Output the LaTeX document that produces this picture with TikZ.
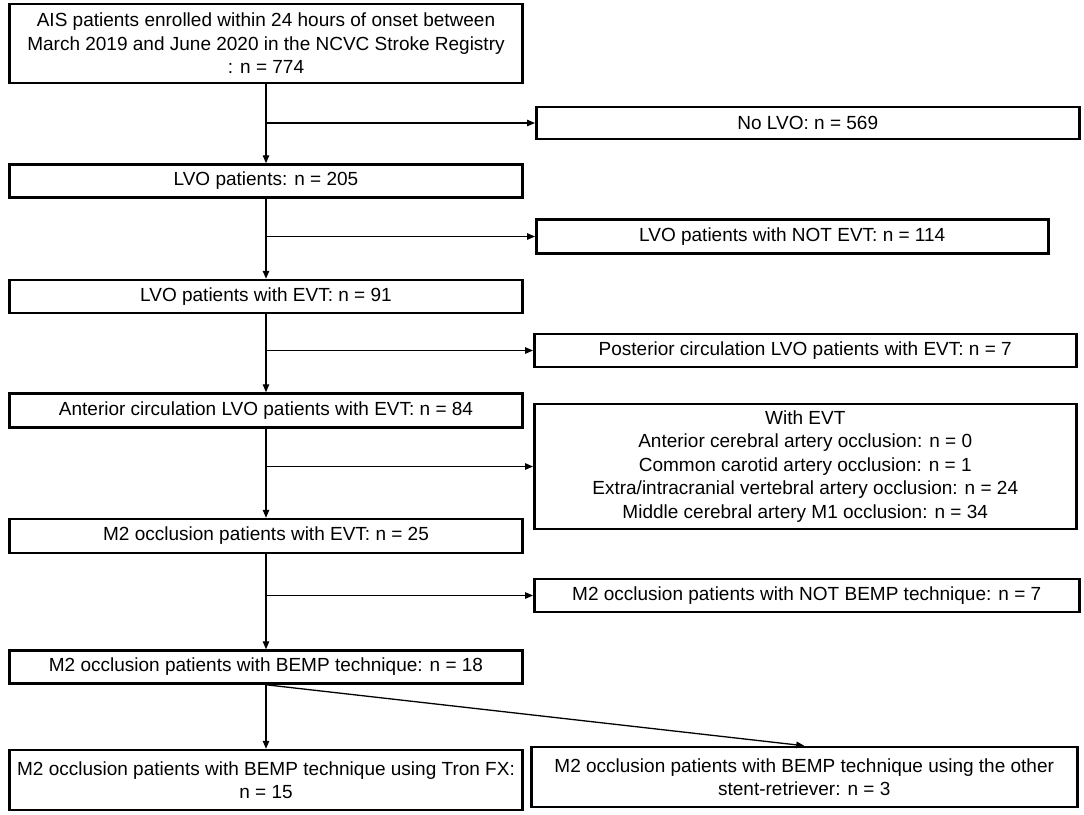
\documentclass[tikz,border=0pt]{standalone}
\usepackage{fontspec}
\setmainfont{Liberation Sans}
\usetikzlibrary{positioning, arrows.meta}

\tikzset{
  box/.style={draw, line width=2.5pt, align=center, inner sep=0pt,
    minimum height=33pt, font=\fontsize{19pt}{23.5pt}\selectfont},
  main/.style={box, minimum width=513pt},
  side/.style={box, anchor=west},
  flow/.style={->, line width=1.3pt},
}

\begin{document}
\begin{tikzpicture}[x=1pt, y=-1pt, >={Triangle[length=8pt,width=6.5pt]}]
  \useasboundingbox (0,0) rectangle (1084,814);

  % Main column
  \node[main, minimum height=79pt] (ais) at (266,43.5)
    {AIS patients enrolled within 24 hours of onset between\\
     March 2019 and June 2020 in the NCVC Stroke Registry\\
     : n = 774};
  \node[main, below=79pt of ais] (lvo) {LVO patients: n = 205};
  \node[main, below=80pt of lvo] (evt) {LVO patients with EVT: n = 91};
  \node[main, below=78pt of evt, minimum height=34pt] (ant) {Anterior circulation LVO patients with EVT: n = 84};
  \node[main, below=89pt of ant, minimum height=34pt] (mtwo) {M2 occlusion patients with EVT: n = 25};
  \node[main, below=95pt of mtwo] (bemp) {M2 occlusion patients with BEMP technique: n = 18};
  \node[main, below=64pt of bemp, minimum height=60pt] (tron)
    {M2 occlusion patients with BEMP technique using Tron FX:\\ n = 15};

  % Excluded patients
  \node[side, minimum width=543pt, minimum height=32pt] (nolvo) at (535,123) {No LVO: n = 569};
  \node[side, minimum width=512pt, minimum height=34pt] (notevt) at (535,236.5) {LVO patients with NOT EVT: n = 114};
  \node[side, minimum width=542pt] (post) at (533,350.5) {Posterior circulation LVO patients with EVT: n = 7};
  \node[side, minimum width=542pt, minimum height=125pt] (withevt) at (533,466.5)
    {With EVT\\
     Anterior cerebral artery occlusion: n = 0\\
     Common carotid artery occlusion: n = 1\\
     Extra/intracranial vertebral artery occlusion: n = 24\\
     Middle cerebral artery M1 occlusion: n = 34};
  \node[side, minimum width=545pt] (notbemp) at (533,595.5) {M2 occlusion patients with NOT BEMP technique: n = 7};
  \node[side, minimum width=546pt, minimum height=60pt] (other) at (530,777)
    {M2 occlusion patients with BEMP technique using the other\\ stent-retriever: n = 3};

  % Arrows
  \draw[flow] (ais) -- (lvo);
  \draw[flow] (lvo) -- (evt);
  \draw[flow] (evt) -- (ant);
  \draw[flow] (ant) -- (mtwo);
  \draw[flow] (mtwo) -- (bemp);
  \draw[flow] (bemp) -- (tron);
  \draw[flow] (bemp.south) -- (other.north);
  \draw[flow] (ais.south |- nolvo.west) -- (nolvo.west);
  \draw[flow] (lvo.south |- notevt.west) -- (notevt.west);
  \draw[flow] (evt.south |- post.west) -- (post.west);
  \draw[flow] (ant.south |- withevt.west) -- (withevt.west);
  \draw[flow] (mtwo.south |- notbemp.west) -- (notbemp.west);
\end{tikzpicture}
\end{document}
